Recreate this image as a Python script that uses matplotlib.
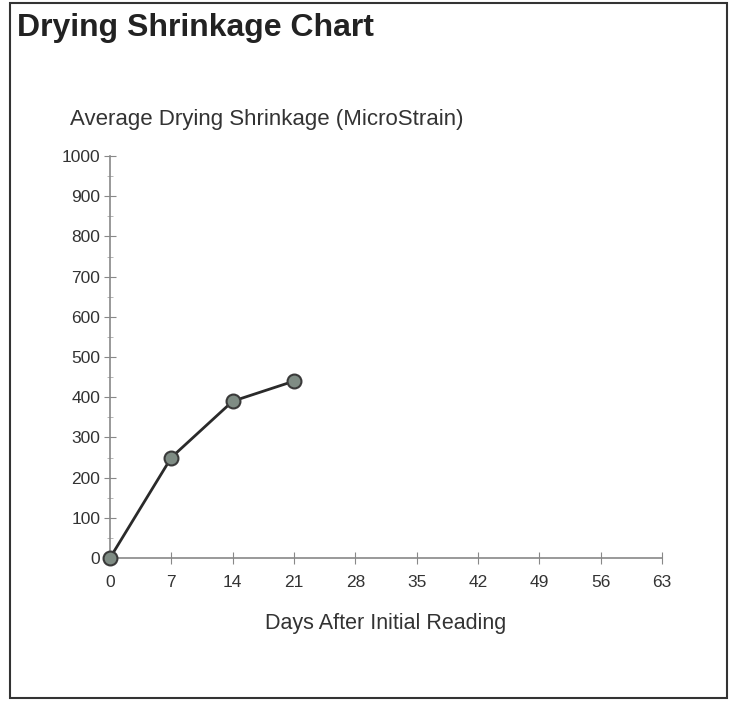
import matplotlib
matplotlib.use("Agg")
import matplotlib.pyplot as plt
from matplotlib.patches import Rectangle
from matplotlib.ticker import MultipleLocator

days = [0, 7, 14, 21]
shrinkage = [0, 250, 390, 440]
x_ticks = [0, 7, 14, 21, 28, 35, 42, 49, 56, 63]
y_ticks = [0, 100, 200, 300, 400, 500, 600, 700, 800, 900, 1000]

plt.rcParams['font.family'] = ['Liberation Sans', 'DejaVu Sans']

fig = plt.figure(figsize=(7.46, 7.01), dpi=100)
fig.patch.set_facecolor('white')

# outer border
fig.add_artist(Rectangle((10/746, 1-698/701), 717/746, 695/701, transform=fig.transFigure,
                         fill=False, edgecolor='#333333', linewidth=1.5))

fig.text(17/746, 1-28/701, 'Drying Shrinkage Chart', fontsize=23, fontweight='bold',
         color='#222222', va='center', ha='left')

ax = fig.add_axes([110/746, 1-558/701, 552/746, 402/701])
ax.plot(days, shrinkage, color='#2a2a2a', linewidth=2, marker='o', markersize=10,
        markerfacecolor='#7f8c84', markeredgecolor='#3a3a3a', markeredgewidth=1.5,
        clip_on=False, zorder=5)
ax.set_xlim(0, 63)
ax.set_ylim(0, 1000)
ax.set_xticks(x_ticks)
ax.set_yticks(y_ticks)
ax.yaxis.set_minor_locator(MultipleLocator(50))
for s in ['top', 'right']:
    ax.spines[s].set_visible(False)
for s in ['left', 'bottom']:
    ax.spines[s].set_color('#888888')
    ax.spines[s].set_linewidth(1.2)
ax.tick_params(axis='both', which='major', direction='inout', length=8, color='#888888',
               labelsize=12.5, labelcolor='#333333')
ax.tick_params(axis='y', which='minor', direction='inout', length=5, color='#aaaaaa')
ax.tick_params(axis='x', pad=8)
ax.tick_params(axis='y', pad=3)
ax.set_facecolor('none')

fig.text(70/746, 1-120/701, 'Average Drying Shrinkage (MicroStrain)', fontsize=16,
         color='#333333', va='center', ha='left')
fig.text(386/746, 1-623/701, 'Days After Initial Reading', fontsize=15.5,
         color='#333333', va='center', ha='center')

fig.savefig('out.png', dpi=100, facecolor='white')
